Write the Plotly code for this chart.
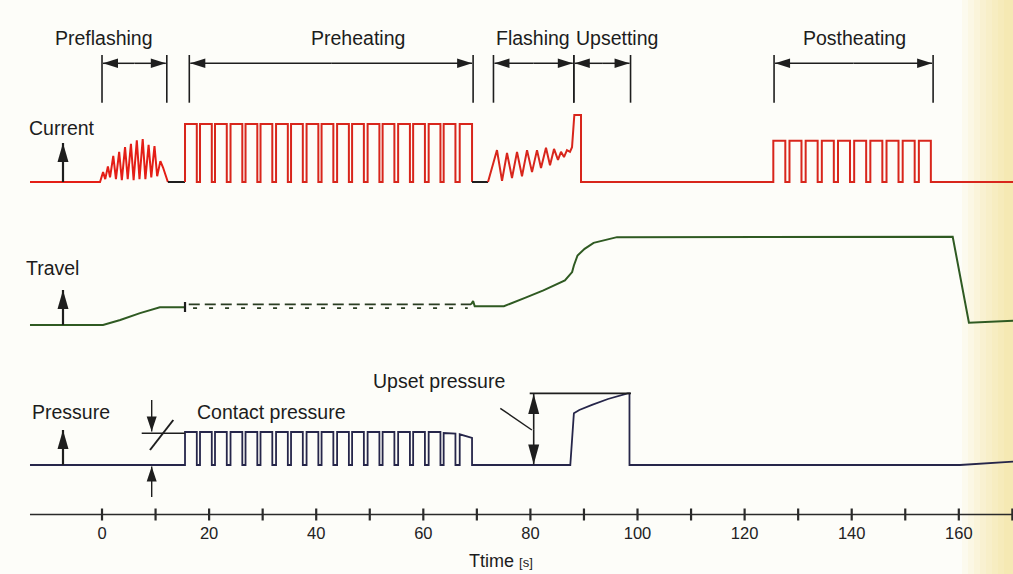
import plotly.graph_objects as go

# ---------------- figure geometry (layout constants) ----------------
W, H = 1013, 574
XMIN, XMAX = -19.05, 170.12          # visible time range [s]
T_START, T_END = -13.45, 170.12      # extent of drawn signals [s]

# ---------------- data ----------------
time_ticks = [0, 10, 20, 30, 40, 50, 60, 70, 80, 90, 100, 110, 120, 130, 140, 150, 160, 170]
time_tick_labels = [0, 20, 40, 60, 80, 100, 120, 140, 160]

phase_names = ["Preflashing", "Preheating", "Flashing", "Upsetting", "Postheating"]
phase_start = [0.0, 16.3, 73.1, 88.1, 125.5]
phase_end = [12.1, 69.3, 88.1, 98.7, 155.2]
phase_label_t = [0.4, 47.8, 80.4, 96.2, 140.6]

# Current (relative level, preheating pulse = 1)
cur_preflash_t = [T_START, -0.37, 0.2, 0.6, 1.1, 1.5, 2.1, 2.6, 3.2, 3.7, 4.3, 4.8, 5.4, 5.9,
                  6.5, 7.0, 7.6, 8.1, 8.7, 9.2, 9.8, 10.3, 10.9, 11.4, 12.3]
cur_preflash_v = [0, 0, 0.17, 0.05, 0.27, 0.08, 0.45, 0.05, 0.52, 0.03, 0.6, 0.05, 0.66, 0.03,
                  0.72, 0.05, 0.74, 0.05, 0.64, 0.08, 0.62, 0.1, 0.36, 0.25, 0]
cur_gap1_t = [12.3, 15.5]
heat_pulse_rise = [15.5, 18.3, 21.1, 24.0, 26.8, 29.6, 32.5, 35.3, 38.2, 41.0, 43.9, 46.7,
                   49.6, 52.4, 55.3, 58.1, 61.0, 63.8, 66.8]
heat_pulse_fall = [17.7, 20.5, 23.3, 26.2, 29.0, 31.8, 34.7, 37.5, 40.4, 43.2, 46.1, 48.9,
                   51.8, 54.6, 57.5, 60.3, 63.2, 66.0, 69.1]
cur_heat_level = 1.0
cur_gap2_t = [69.1, 72.08]
cur_flash_t = [72.08, 73.76, 74.7, 75.63, 76.56, 77.5, 78.43, 79.37, 80.3, 81.23, 81.98, 82.91,
               83.66, 84.41, 85.15, 85.71, 86.27, 86.83, 87.39, 87.77, 88.2, 89.45, 89.45]
cur_flash_v = [0, 0.55, 0.02, 0.5, 0.07, 0.52, 0.1, 0.55, 0.17, 0.55, 0.24, 0.59,
               0.29, 0.57, 0.38, 0.52, 0.43, 0.55, 0.52, 0.6, 1.155, 1.155, 0]
post_pulse_rise = [125.36, 128.38, 131.4, 134.42, 137.44, 140.46, 143.48, 146.5, 149.52, 152.54]
post_pulse_fall = [127.6, 130.62, 133.64, 136.66, 139.68, 142.7, 145.72, 148.74, 151.76, 154.78]
cur_post_level = 0.71

# Travel (relative, plateau = 1)
travel_a_t = [T_START, 0.19, 3.4, 7.1, 10.8, 15.5]
travel_a_v = [0, 0, 0.056, 0.135, 0.2, 0.2]
travel_dash_hi_t = [16.2, 68.9]
travel_dash_hi_v = [0.233, 0.233]
travel_dash_lo_t = [17.0, 68.3]
travel_dash_lo_v = [0.19, 0.19]
travel_b_t = [68.9, 69.3, 69.6, 75.05, 79.1, 82.43, 86.44, 87.79, 88.12, 88.8, 90.12, 91.8,
              96.17, 158.86, 161.89, T_END]
travel_b_v = [0.233, 0.27, 0.213, 0.213, 0.31, 0.393, 0.506, 0.599, 0.674, 0.787, 0.862, 0.93,
              0.995, 1.0, 0.026, 0.048]

# Pressure (relative, contact pressure = 1)
pres_top_start = [1] * 17 + [0.97, 0.93]
pres_top_end = [1] * 17 + [0.95, 0.82]
pres_upset_t = [69.1, 87.45, 88.12, 89.13, 91.5, 94.49, 98.17, 98.5, 98.5, 160.2, T_END]
pres_upset_v = [0, 0, 1.567, 1.667, 1.82, 2.0, 2.17, 2.17, 0, 0, 0.1]
upset_level = 2.17

# ---------------- styles ----------------
RED = "#d8261c"
DARK = "#1e1e1e"
GREEN = "#2f5a22"
NAVY = "#26264a"
FONT = "Liberation Sans, Arial, sans-serif"

# axis scaling: baseline pixel and pixels per unit for each signal
CUR_BASE, CUR_UNIT = 182, 58
TRV_BASE, TRV_UNIT = 325, 88.3
PRS_BASE, PRS_UNIT = 465, 33


def yrange(base, unit):
    return [(base - H) / unit, base / unit]


def pulses(rise, fall, top_a, top_b):
    xs, ys = [], []
    for r, f, a, b in zip(rise, fall, top_a, top_b):
        xs += [r, r, f, f]
        ys += [0, a, b, 0]
    return xs, ys


fig = go.Figure()


def add(x, y, color, width, yaxis, dash=None):
    fig.add_trace(go.Scatter(x=x, y=y, mode="lines", yaxis=yaxis, hoverinfo="skip",
                             line=dict(color=color, width=width, dash=dash)))


n_heat = len(heat_pulse_rise)
# Current
add(cur_preflash_t, cur_preflash_v, "#e41e16", 2.0, "y")
add(cur_gap1_t, [0, 0], DARK, 2.0, "y")
hx, hy = pulses(heat_pulse_rise, heat_pulse_fall, [cur_heat_level] * n_heat, [cur_heat_level] * n_heat)
add(hx, hy, RED, 2.0, "y")
add(cur_gap2_t, [0, 0], DARK, 2.0, "y")
px_, py_ = pulses(post_pulse_rise, post_pulse_fall, [cur_post_level] * len(post_pulse_rise),
                  [cur_post_level] * len(post_pulse_rise))
add(cur_flash_t + px_ + [T_END], cur_flash_v + py_ + [0], RED, 2.0, "y")

# Travel
add(travel_a_t, travel_a_v, GREEN, 2.0, "y2")
add(travel_dash_hi_t, travel_dash_hi_v, "#2a3d22", 1.8, "y2", dash="11px,5px")
add(travel_dash_lo_t, travel_dash_lo_v, "#2a3d22", 1.8, "y2", dash="4px,12px")
add(travel_b_t, travel_b_v, GREEN, 2.0, "y2")

# Pressure
qx, qy = pulses(heat_pulse_rise, heat_pulse_fall, pres_top_start, pres_top_end)
add([T_START] + qx + pres_upset_t, [0] + qy + pres_upset_v, NAVY, 1.8, "y3")

# ---------------- decorations ----------------
shapes, annos = [], []


def t2px(t):
    return (t - XMIN) / (XMAX - XMIN) * W


def pp(x, y):
    return x / W, 1 - y / H


def seg(x0, y0, x1, y1, color=DARK, width=1.6):
    a, b = pp(x0, y0)
    c, d = pp(x1, y1)
    shapes.append(dict(type="line", xref="paper", yref="paper", x0=a, y0=b, x1=c, y1=d,
                       line=dict(color=color, width=width)))


def head(tx, ty, dx, dy, length, hw, color=DARK):
    n = (dx * dx + dy * dy) ** 0.5
    ux, uy = dx / n, dy / n
    bx, by = tx - ux * length, ty - uy * length
    qx_, qy_ = -uy, ux
    pts = [(tx, ty), (bx + qx_ * hw, by + qy_ * hw), (bx - qx_ * hw, by - qy_ * hw)]
    path = "M " + " L ".join("%.5f,%.5f" % pp(x, y) for x, y in pts) + " Z"
    shapes.append(dict(type="path", xref="paper", yref="paper", path=path,
                       fillcolor=color, line=dict(width=0)))


def arrow(x0, y0, x1, y1, length, hw, width=2.0):
    seg(x0, y0, x1, y1, width=width)
    head(x1, y1, x1 - x0, y1 - y0, length, hw)


def text(s, x, y, size=19.5):
    a, b = pp(x, y)
    annos.append(dict(text=s, xref="paper", yref="paper", x=a, y=b, xanchor="center",
                      yanchor="middle", showarrow=False,
                      font=dict(family=FONT, size=size, color="#1c1c1c")))


# yellowish scan tint at right edge
for k in range(8):
    shapes.append(dict(type="rect", xref="paper", yref="paper", x0=(962 + 6 * k) / W, x1=1,
                       y0=0, y1=1, fillcolor="#f2d862", opacity=0.07, layer="below",
                       line=dict(width=0)))

# phase brackets
for name, s, e, lt in zip(phase_names, phase_start, phase_end, phase_label_t):
    xs, xe = t2px(s), t2px(e)
    seg(xs, 55, xs, 102.7, width=1.6)
    seg(xe, 55, xe, 102.7, width=1.6)
    arrow((xs + xe) / 2, 63.3, xs + 1, 63.3, 15, 4.8, width=1.5)
    arrow((xs + xe) / 2, 63.3, xe - 1, 63.3, 15, 4.8, width=1.5)
    text(name, t2px(lt), 38)

# signal names and up arrows
text("Current", 61.7, 128)
arrow(63, 182, 63, 143, 19, 5.5, width=2.2)
text("Travel", 52.5, 268)
arrow(63, 325, 63, 290, 19, 5.5, width=2.2)
text("Pressure", 71, 412)
arrow(63, 465, 63, 430, 19, 5.5, width=2.2)

# travel mark
seg(t2px(travel_a_t[-1]), 302, t2px(travel_a_t[-1]), 312, width=2.2)

# contact pressure marker
text("Contact pressure", 271.7, 412)
arrow(151.7, 400, 151.7, 431.5, 15, 5, width=1.4)
arrow(151.7, 497, 151.7, 466.5, 15, 5, width=1.4)
seg(141.7, 433.3, t2px(heat_pulse_rise[0]), 433.3, width=1.5)
seg(150, 450, 173.3, 420, width=2.0)

# upset pressure marker
text("Upset pressure", 438.5, 381)
ytop = PRS_BASE - upset_level * PRS_UNIT
seg(500.3, 408.3, 531.9, 430, width=1.5)
seg(529.7, ytop, t2px(pres_upset_t[7]) + 1.5, ytop, width=1.6)
arrow(533.7, (ytop + PRS_BASE) / 2, 533.7, ytop + 0.5, 20, 5.5, width=1.6)
arrow(533.7, (ytop + PRS_BASE) / 2, 533.7, PRS_BASE - 0.5, 20, 5.5, width=1.6)

# time axis line and ticks
AX_Y = 514.5
seg(t2px(T_START), AX_Y, W, AX_Y, color="#2a2a2a", width=1.6)
for tv in time_ticks:
    shapes.append(dict(type="line", xref="x", yref="paper", x0=tv, x1=tv,
                       y0=1 - 520.5 / H, y1=1 - 508.5 / H,
                       line=dict(color="#2a2a2a", width=2.2)))

text("Ttime <span style='font-size:13px'>[s]</span>", 501, 561, size=18)

fig.update_layout(
    width=W, height=H, autosize=False,
    margin=dict(l=0, r=0, t=0, b=0),
    paper_bgcolor="#fdfdf9", plot_bgcolor="rgba(0,0,0,0)",
    showlegend=False, hovermode=False,
    font=dict(family=FONT, color="#1c1c1c"),
    xaxis=dict(range=[XMIN, XMAX], domain=[0, 1], anchor="free", position=1 - AX_Y / H,
               showgrid=False, zeroline=False, showline=False, ticks="",
               tickvals=time_tick_labels, ticktext=[str(v) for v in time_tick_labels],
               tickfont=dict(family=FONT, size=16.5, color="#222"), ticklabelstandoff=7,
               fixedrange=True),
    yaxis=dict(range=yrange(CUR_BASE, CUR_UNIT), domain=[0, 1], visible=False, fixedrange=True),
    yaxis2=dict(range=yrange(TRV_BASE, TRV_UNIT), overlaying="y", visible=False, fixedrange=True),
    yaxis3=dict(range=yrange(PRS_BASE, PRS_UNIT), overlaying="y", visible=False, fixedrange=True),
    shapes=shapes, annotations=annos,
)

fig.write_html("out.html")
